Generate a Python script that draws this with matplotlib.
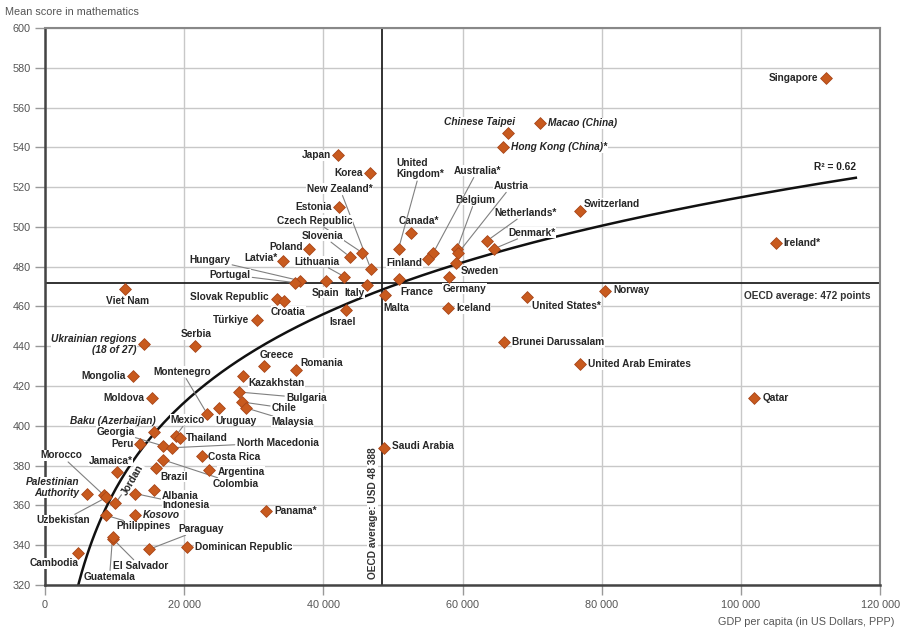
"""
   PISA mean score in mathematics against GDP per capita,
   with OECD averages and a logarithmic trend line.
"""
import numpy as np
import matplotlib
matplotlib.use("Agg")
import matplotlib.pyplot as plt

# ---- data ----
countries = [
    "Singapore", "Ireland*", "Qatar", "Macao (China)", "Chinese Taipei",
    "Hong Kong (China)*", "Japan", "Korea", "Estonia", "Switzerland",
    "Canada*", "Netherlands*", "Denmark*", "Belgium", "Austria",
    "United\nKingdom*", "Australia*", "Finland", "Sweden", "Germany",
    "France", "Malta", "Iceland", "United States*", "Norway",
    "New Zealand*", "Czech Republic", "Slovenia", "Poland", "Latvia*",
    "Lithuania", "Hungary", "Portugal", "Spain", "Italy",
    "Slovak Republic", "Croatia", "Israel", "Türkiye", "Viet Nam",
    "Ukrainian regions\n(18 of 27)", "Serbia", "Mongolia", "Moldova", "Kazakhstan",
    "Bulgaria", "Chile", "Malaysia", "Uruguay", "Montenegro",
    "Baku (Azerbaijan)", "Mexico", "Thailand", "Georgia", "Peru",
    "North Macedonia", "Jamaica*", "Brazil", "Colombia", "Costa Rica",
    "Argentina", "Palestinian\nAuthority", "Morocco", "Uzbekistan", "Jordan",
    "Indonesia", "Albania", "Kosovo", "Philippines", "El Salvador",
    "Guatemala", "Paraguay", "Dominican Republic", "Cambodia", "Greece",
    "Romania", "Panama*", "Saudi Arabia", "Brunei Darussalam", "United Arab Emirates",
]
gdp = [
    112200, 105000, 101900, 71100, 66500,
    65800, 42100, 46700, 42200, 76900,
    52600, 63500, 64500, 59200, 59400,
    50800, 55800, 55100, 59100, 58000,
    50900, 48800, 57900, 69200, 80400,
    46800, 45600, 43800, 37900, 34200,
    43000, 36600, 35900, 40400, 46200,
    33300, 34400, 43300, 30400, 11500,
    14200, 21600, 12700, 15400, 28500,
    27900, 28300, 28900, 25000, 23300,
    15600, 18800, 19400, 16900, 13700,
    18200, 10400, 15900, 16900, 22500,
    23600, 6100, 8500, 8800, 10100,
    12900, 15700, 12900, 8800, 9800,
    9700, 15000, 20400, 4800, 31400,
    36000, 31700, 48700, 66000, 76800,
]
scores = [
    575, 492, 414, 552, 547,
    540, 536, 527, 510, 508,
    497, 493, 489, 489, 487,
    489, 487, 484, 482, 475,
    474, 466, 459, 465, 468,
    479, 487, 485, 489, 483,
    475, 473, 472, 473, 471,
    464, 463, 458, 453, 469,
    441, 440, 425, 414, 425,
    417, 412, 409, 409, 406,
    397, 395, 394, 390, 391,
    389, 377, 379, 383, 385,
    378, 366, 365, 364, 361,
    366, 368, 355, 355, 343,
    344, 338, 339, 336, 430,
    428, 357, 389, 442, 431,
]
italic_names = ["Macao (China)", "Chinese Taipei", "Hong Kong (China)*",
                "Ukrainian regions\n(18 of 27)", "Baku (Azerbaijan)",
                "Palestinian\nAuthority", "Kosovo"]

oecd_gdp = 48388
oecd_score = 472
r2_text = "R² = 0.62"

x_ticks = [0, 20000, 40000, 60000, 80000, 100000, 120000]
y_ticks = list(range(320, 601, 20))

# label placement: offset in pixels (dx, dy), alignment, leader line
label_pos = {
    "Singapore": (-8, 0, "right", False), "Ireland*": (8, 0, "left", False),
    "Qatar": (8, 0, "left", False), "Macao (China)": (8, 0, "left", False),
    "Chinese Taipei": (-28, 11, "center", False),
    "Hong Kong (China)*": (8, 0, "left", False),
    "Japan": (-7, 0, "right", False), "Korea": (-7, 0, "right", False),
    "Estonia": (-7, 0, "right", False), "Switzerland": (3, 7, "left", False),
    "Canada*": (8, 12, "center", False), "Netherlands*": (39, 28, "center", True),
    "Denmark*": (38, 16, "center", True), "Belgium": (18, 49, "center", True),
    "Austria": (53, 67, "center", True), "United\nKingdom*": (-2, 80, "left", True),
    "Australia*": (44, 82, "center", True), "Finland": (-6, -4, "right", False),
    "Sweden": (4, -8, "left", False), "Germany": (16, -12, "center", False),
    "France": (1, -13, "left", False), "Malta": (-1, -13, "left", False),
    "Iceland": (8, 0, "left", False), "United States*": (5, -9, "left", False),
    "Norway": (9, 1, "left", False), "New Zealand*": (2, 80, "right", True),
    "Czech Republic": (-48, 32, "center", True), "Slovenia": (-27, 21, "center", True),
    "Poland": (-6, 2, "right", False), "Latvia*": (-5, 3, "right", False),
    "Lithuania": (-27, 15, "center", True), "Hungary": (-90, 21, "center", True),
    "Portugal": (-65, 8, "center", True), "Spain": (-1, -12, "center", False),
    "Italy": (-12, -8, "center", False), "Slovak Republic": (-8, 2, "right", False),
    "Croatia": (4, -11, "center", False), "Israel": (-4, -12, "center", False),
    "Türkiye": (-7, 0, "right", False), "Viet Nam": (3, -12, "center", False),
    "Ukrainian regions\n(18 of 27)": (-7, 0, "right", False),
    "Serbia": (1, 12, "center", False), "Mongolia": (-8, 0, "right", False),
    "Moldova": (-8, 0, "right", False), "Kazakhstan": (5, -7, "left", False),
    "Bulgaria": (47, -6, "left", True), "Chile": (30, -6, "left", True),
    "Malaysia": (25, -14, "left", True), "Uruguay": (17, -13, "center", False),
    "Montenegro": (-25, 42, "center", True), "Baku (Azerbaijan)": (-41, 11, "center", False),
    "Mexico": (12, 16, "center", True), "Thailand": (6, 0, "left", False),
    "Georgia": (-47, 14, "center", True), "Peru": (-7, 0, "right", False),
    "North Macedonia": (65, 5, "left", True), "Jamaica*": (-7, 11, "center", False),
    "Brazil": (5, -9, "left", False), "Colombia": (50, -24, "left", True),
    "Costa Rica": (6, -1, "left", False), "Argentina": (8, -2, "left", False),
    "Palestinian\nAuthority": (-8, 6, "right", False),
    "Morocco": (-43, 40, "center", True), "Uzbekistan": (-43, -23, "center", True),
    "Jordan": (17, 24, "center", True), "Indonesia": (28, -11, "left", True),
    "Albania": (7, -6, "left", False), "Kosovo": (8, 0, "left", False),
    "Philippines": (10, -11, "left", True), "El Salvador": (27, -27, "center", True),
    "Guatemala": (-3, -40, "center", True), "Paraguay": (29, 20, "left", True),
    "Dominican Republic": (8, 0, "left", False), "Cambodia": (-24, -10, "center", False),
    "Greece": (13, 11, "center", False), "Romania": (5, 7, "left", False),
    "Panama*": (9, 0, "left", False), "Saudi Arabia": (8, 2, "left", False),
    "Brunei Darussalam": (8, 0, "left", False),
    "United Arab Emirates": (8, 0, "left", False),
}

font = ["Liberation Sans Narrow", "Liberation Sans", "DejaVu Sans"]
plt.rcParams["font.family"] = font
LABEL_SIZE = 7.3

fig = plt.figure(figsize=(9, 6.3), dpi=100)
ax = fig.add_axes([0.05, 0.0714, 0.928, 0.8842])

ax.set_xlim(0, 120000)
ax.set_ylim(320, 600)
ax.set_xticks(x_ticks)
ax.set_yticks(y_ticks)
ax.set_xticklabels([f"{t:,}".replace(",", " ") for t in x_ticks])
ax.grid(True, color="#c8c8c8", linewidth=1)
ax.set_axisbelow(True)
ax.tick_params(colors="#999999", labelcolor="#555555", labelsize=7.8, length=7, width=1)

for side in ["left", "bottom"]:
    ax.spines[side].set_color("#444444")
    ax.spines[side].set_linewidth(1.8)
for side in ["top", "right"]:
    ax.spines[side].set_color("#888888")
    ax.spines[side].set_linewidth(1.5)

# OECD average lines
ax.axhline(oecd_score, color="#222222", linewidth=1.3, zorder=2)
ax.axvline(oecd_gdp, color="#222222", linewidth=1.3, zorder=2)

# logarithmic trend line fitted to the points
b, a = np.polyfit(np.log(gdp), scores, 1)
xs = np.linspace(3000, 116500, 300)
ax.plot(xs, a + b * np.log(xs), color="#111111", linewidth=1.8, zorder=2)
ax.annotate(r2_text, (116500, a + b * np.log(116500)), xytext=(0, 11),
            textcoords="offset pixels", ha="right", va="center",
            fontsize=LABEL_SIZE, fontweight="bold", color="#222222")

ax.scatter(gdp, scores, marker="D", s=36, color="#c85a1e",
           edgecolor="#a8461a", linewidth=0.6, zorder=5)

for name, x, y in zip(countries, gdp, scores):
    dx, dy, ha, leader = label_pos[name]
    style = "italic" if name in italic_names else "normal"
    rot = 60 if name == "Jordan" else 0
    arrow = None
    if leader:
        arrow = dict(arrowstyle="-", color="#808080", linewidth=0.8,
                     shrinkA=1, shrinkB=3)
    ax.annotate(name, (x, y), xytext=(dx, dy), textcoords="offset pixels",
                ha=ha, va="center", fontsize=LABEL_SIZE, fontweight="bold",
                fontstyle=style, color="#262626", rotation=rot,
                multialignment=ha if ha != "center" else "center",
                linespacing=1.1,
                bbox=dict(boxstyle="square,pad=0.05", fc="white", ec="none"),
                arrowprops=arrow, zorder=4)

ax.annotate("OECD average: 472 points", (120000, oecd_score), xytext=(-10, -13),
            textcoords="offset pixels", ha="right", va="center",
            fontsize=LABEL_SIZE, color="#333333", fontweight="bold",
            bbox=dict(boxstyle="square,pad=0.05", fc="white", ec="none"))
ax.annotate("OECD average: USD 48 388", (oecd_gdp, 320), xytext=(-4, 6),
            textcoords="offset pixels", ha="right", va="bottom",
            rotation=90, fontsize=LABEL_SIZE, color="#333333", fontweight="bold",
            bbox=dict(boxstyle="square,pad=0.05", fc="white", ec="none"))

fig.text(0.006, 0.981, "Mean score in mathematics", fontsize=7.8,
         color="#555555", ha="left", va="center")
fig.text(0.994, 0.013, "GDP per capita (in US Dollars, PPP)", fontsize=7.8,
         color="#555555", ha="right", va="center")

fig.savefig("out.png", dpi=100, facecolor="white")
